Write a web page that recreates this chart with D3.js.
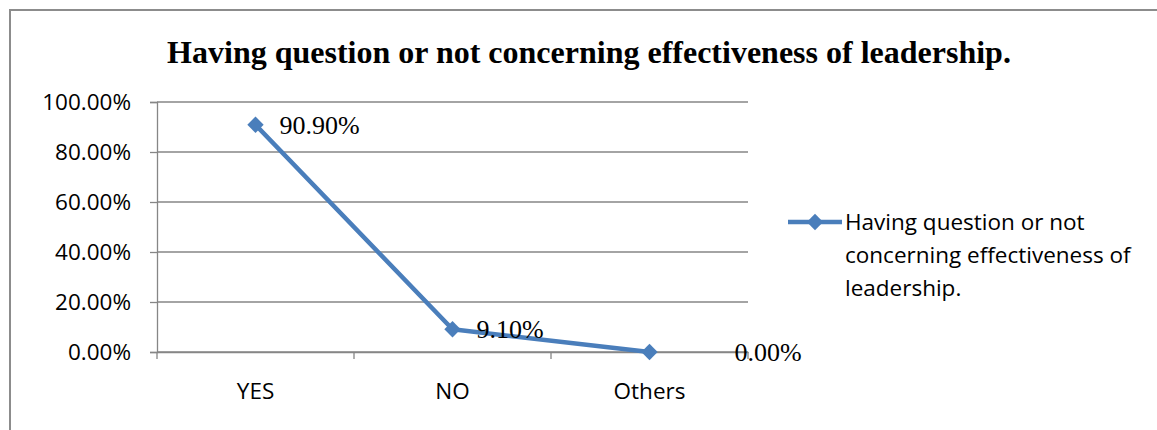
<!DOCTYPE html>
<html>
<head>
<meta charset="utf-8">
<script src="https://cdn.jsdelivr.net/npm/d3@7"></script>
<style>
  html, body { margin: 0; padding: 0; background: #fff; }
  svg { display: block; }
</style>
</head>
<body>
<script>
// Chart data
const categories = ["YES", "NO", "Others"];
const values = [0.909, 0.091, 0.0];
const valueLabels = ["90.90%", "9.10%", "0.00%"];
const yTicks = [0, 0.2, 0.4, 0.6, 0.8, 1.0];
const legendLines = ["Having question or not", "concerning effectiveness of", "leadership."];
const titleText = "Having question or not concerning effectiveness of leadership.";

const W = 1157, H = 430;
const blue = "#4A7EBB";
const axisGrey = "#868686";
const sansFont = "'Open Sans', 'Noto Sans', sans-serif";
const serifFont = "'Liberation Serif', 'Times New Roman', serif";
const sansSize = 22.5;

const svg = d3.select("body").append("svg")
  .attr("width", W).attr("height", H);

// Outer chart border (runs off the right and bottom edges)
svg.append("rect")
  .attr("x", 10).attr("y", 10)
  .attr("width", W + 20).attr("height", H + 20)
  .attr("fill", "#fff")
  .attr("stroke", "#8c8c8c").attr("stroke-width", 2);

// Title
svg.append("text")
  .attr("x", 589).attr("y", 63)
  .attr("text-anchor", "middle")
  .attr("font-family", serifFont)
  .attr("font-weight", "bold")
  .attr("font-size", 32)
  .attr("fill", "#000")
  .text(titleText);

// Plot area
const plot = { left: 157, right: 748, top: 102, bottom: 352 };

const x = d3.scaleBand()
  .domain(categories)
  .range([plot.left, plot.right])
  .paddingInner(0).paddingOuter(0);

const y = d3.scaleLinear()
  .domain([0, 1])
  .range([plot.bottom, plot.top]);

// Horizontal gridlines
svg.append("g")
  .selectAll("line")
  .data(yTicks)
  .join("line")
  .attr("x1", plot.left).attr("x2", plot.right)
  .attr("y1", d => y(d)).attr("y2", d => y(d))
  .attr("stroke", axisGrey).attr("stroke-width", 1.3);

// Y axis
const yAxis = d3.axisLeft(y)
  .tickValues(yTicks)
  .tickSize(7)
  .tickPadding(19)
  .tickFormat(d => (d * 100).toFixed(2) + "%");

const gy = svg.append("g")
  .attr("transform", `translate(${plot.left},0)`)
  .call(yAxis);
gy.select(".domain").attr("stroke", axisGrey).attr("stroke-width", 1.3);
gy.selectAll(".tick line").attr("stroke", axisGrey).attr("stroke-width", 1.3);
gy.selectAll(".tick text")
  .attr("font-family", sansFont)
  .attr("font-size", sansSize)
  .attr("fill", "#000");

// X axis with tick marks on category boundaries
const xAxis = d3.axisBottom(x).tickSize(0).tickPadding(31);
const gx = svg.append("g")
  .attr("transform", `translate(0,${plot.bottom})`)
  .call(xAxis);
gx.select(".domain").attr("stroke", axisGrey).attr("stroke-width", 1.3);
gx.selectAll(".tick text")
  .attr("font-family", sansFont)
  .attr("font-size", sansSize)
  .attr("fill", "#000");

const boundaries = categories.map(c => x(c)).concat([x(categories[categories.length - 1]) + x.bandwidth()]);
gx.append("g")
  .selectAll("line")
  .data(boundaries)
  .join("line")
  .attr("x1", d => d).attr("x2", d => d)
  .attr("y1", 0).attr("y2", 7)
  .attr("stroke", axisGrey).attr("stroke-width", 1.3);

// Series line
const pts = categories.map((c, i) => ({ c, v: values[i], label: valueLabels[i] }));
const line = d3.line()
  .x(d => x(d.c) + x.bandwidth() / 2)
  .y(d => y(d.v));

svg.append("path")
  .datum(pts)
  .attr("d", line)
  .attr("fill", "none")
  .attr("stroke", blue)
  .attr("stroke-width", 4.5)
  .attr("stroke-linejoin", "round");

// Diamond markers
const diamond = d3.symbol().type(d3.symbolDiamond2).size(170);
svg.append("g")
  .selectAll("path")
  .data(pts)
  .join("path")
  .attr("transform", d => `translate(${x(d.c) + x.bandwidth() / 2},${y(d.v)})`)
  .attr("d", diamond)
  .attr("fill", blue);

// Value labels
svg.append("g")
  .selectAll("text")
  .data(pts)
  .join("text")
  .attr("x", d => x(d.c) + x.bandwidth() / 2 + (d.v === 0 ? 85 : 24))
  .attr("y", d => y(d.v) + 9)
  .attr("font-family", serifFont)
  .attr("font-size", 26)
  .attr("fill", "#000")
  .text(d => d.label);

// Legend
const lg = svg.append("g").attr("transform", "translate(788,222)");
lg.append("line")
  .attr("x1", 0).attr("x2", 54).attr("y1", 0).attr("y2", 0)
  .attr("stroke", blue).attr("stroke-width", 4.5);
lg.append("path")
  .attr("transform", "translate(27,0)")
  .attr("d", diamond)
  .attr("fill", blue);
lg.append("text")
  .attr("font-family", sansFont)
  .attr("font-size", sansSize)
  .attr("fill", "#000")
  .selectAll("tspan")
  .data(legendLines)
  .join("tspan")
  .attr("x", 57)
  .attr("y", (d, i) => 8 + i * 33)
  .text(d => d);
</script>
</body>
</html>
